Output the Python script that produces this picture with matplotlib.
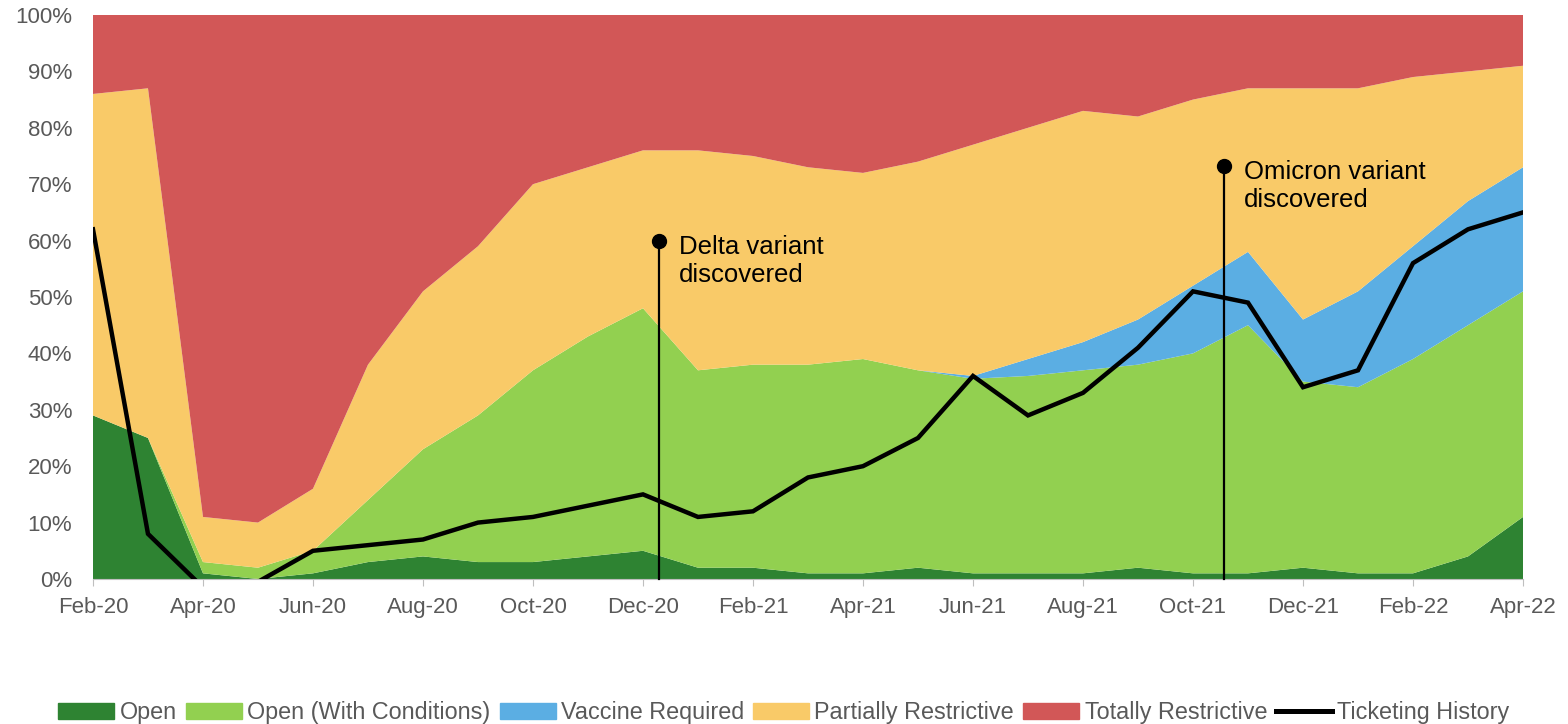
import matplotlib.pyplot as plt
from matplotlib.patches import Patch
from matplotlib.lines import Line2D

plt.rcParams['font.family'] = ['Liberation Sans', 'DejaVu Sans']

months = ["Feb-20", "Mar-20", "Apr-20", "May-20", "Jun-20", "Jul-20", "Aug-20", "Sep-20",
          "Oct-20", "Nov-20", "Dec-20", "Jan-21", "Feb-21", "Mar-21", "Apr-21", "May-21",
          "Jun-21", "Jul-21", "Aug-21", "Sep-21", "Oct-21", "Nov-21", "Dec-21", "Jan-22",
          "Feb-22", "Mar-22", "Apr-22"]

open_ = [29, 25, 1, 0, 1, 3, 4, 3, 3, 4, 5, 2, 2, 1, 1, 2, 1, 1, 1, 2, 1, 1, 2, 1, 1, 4, 11]
open_cond = [0, 0, 2, 2, 4, 11, 19, 26, 34, 39, 43, 35, 36, 37, 38, 35, 34.5, 35, 36, 36, 39, 44, 33, 33, 38, 41, 40]
vaccine = [0, 0, 0, 0, 0, 0, 0, 0, 0, 0, 0, 0, 0, 0, 0, 0, 0.5, 3, 5, 8, 12, 13, 11, 17, 20, 22, 22]
partial = [57, 62, 8, 8, 11, 24, 28, 30, 33, 30, 28, 39, 37, 35, 33, 37, 41, 41, 41, 36, 33, 29, 41, 36, 30, 23, 18]
totally = [14, 13, 89, 90, 84, 62, 49, 41, 30, 27, 24, 24, 25, 27, 28, 26, 23, 20, 17, 18, 15, 13, 13, 13, 11, 10, 9]
ticketing = [62, 8, -1.5, -0.5, 5, 6, 7, 10, 11, 13, 15, 11, 12, 18, 20, 25, 36, 29, 33, 41, 51, 49, 34, 37, 56, 62, 65]

labels = ["Open", "Open (With Conditions)", "Vaccine Required", "Partially Restrictive", "Totally Restrictive"]
colors = ["#2E8332", "#92D050", "#5BAEE3", "#F9CA68", "#D25757"]

events = [(10.3, 60, "Delta variant\ndiscovered"), (20.56, 73.2, "Omicron variant\ndiscovered")]

fig = plt.figure(figsize=(15.68, 7.24), dpi=100)
ax = fig.add_axes([0.0593, 0.2003, 0.912, 0.7790])

x = list(range(len(months)))
ax.stackplot(x, open_, open_cond, vaccine, partial, totally, colors=colors, linewidth=0)
ax.plot(x, ticketing, color="black", lw=3.2, solid_joinstyle="miter", zorder=5)

for ex, ey, txt in events:
    ax.plot([ex, ex], [0, ey], color="black", lw=1.6, zorder=6, clip_on=False)
    ax.plot(ex, ey, "o", color="black", ms=10, zorder=7)
    ax.text(ex + 0.36, ey + 1.0, txt, fontsize=18.5, va="top", ha="left", linespacing=1.2, zorder=7)

ax.set_xlim(0, len(months) - 1)
ax.set_ylim(0, 100)
ax.set_xticks(x[::2])
ax.set_xticklabels(months[::2])
ax.set_yticks(range(0, 101, 10))
ax.set_yticklabels([f"{v}%" for v in range(0, 101, 10)])
ax.tick_params(axis="both", labelsize=16, colors="#595959", labelcolor="#595959")
ax.tick_params(axis="y", length=0, pad=15)
ax.tick_params(axis="x", length=5, color="#BFBFBF", pad=8)
for s in ["top", "right", "left"]:
    ax.spines[s].set_visible(False)
ax.spines["bottom"].set_color("#BFBFBF")

handles = [Patch(color=c, label=l) for c, l in zip(colors, labels)]
handles.append(Line2D([], [], color="black", lw=3.6, label="Ticketing History"))
fig.legend(handles=handles, loc="lower center", bbox_to_anchor=(0.5, -0.029), ncol=6, frameon=False,
           fontsize=16.8, handlelength=2.4, handleheight=0.7, handletextpad=0.22, columnspacing=0.4,
           labelcolor="#595959")

fig.savefig("out.png", dpi=100)
